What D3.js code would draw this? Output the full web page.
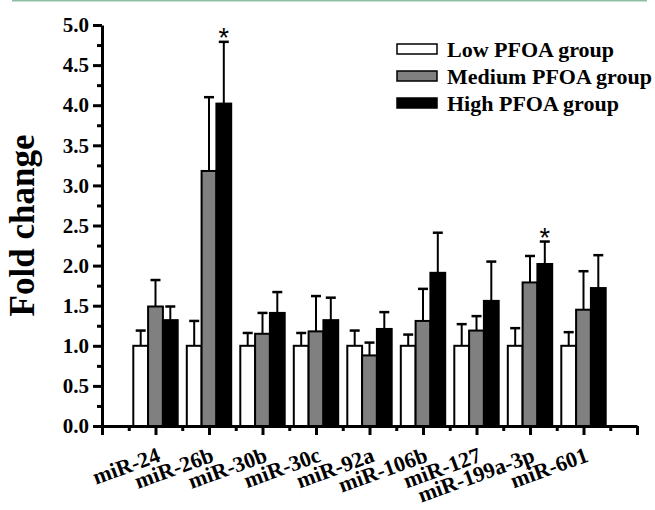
<!DOCTYPE html>
<html>
<head>
<meta charset="utf-8">
<script src="https://cdn.jsdelivr.net/npm/d3@7"></script>
<style>
  body { margin: 0; background: #fff; }
  svg text { font-family: "Liberation Serif", "Times New Roman", serif; font-weight: bold; }
</style>
</head>
<body>
<svg id="chart" width="655" height="510"></svg>
<script>
// data
const categories = ["miR-24", "miR-26b", "miR-30b", "miR-30c", "miR-92a", "miR-106b", "miR-127", "miR-199a-3p", "miR-601"];
const groups = ["Low PFOA group", "Medium PFOA group", "High PFOA group"];
const lowMean = [1.0, 1.0, 1.0, 1.0, 1.0, 1.0, 1.0, 1.0, 1.0];
const lowSD = [0.19, 0.31, 0.16, 0.16, 0.19, 0.14, 0.27, 0.22, 0.17];
const mediumMean = [1.49, 3.18, 1.15, 1.18, 0.88, 1.31, 1.19, 1.79, 1.45];
const mediumSD = [0.33, 0.92, 0.26, 0.44, 0.16, 0.40, 0.18, 0.33, 0.48];
const highMean = [1.32, 4.02, 1.41, 1.32, 1.21, 1.91, 1.56, 2.02, 1.72];
const highSD = [0.17, 0.77, 0.26, 0.28, 0.21, 0.50, 0.49, 0.28, 0.41];
const starred = ["miR-26b", "miR-199a-3p"]; // * on the high group
const yTicks = [0, 0.5, 1, 1.5, 2, 2.5, 3, 3.5, 4, 4.5, 5];
const yMinor = [0.25, 0.75, 1.25, 1.75, 2.25, 2.75, 3.25, 3.75, 4.25, 4.75];

const fills = ["#ffffff", "#808080", "#000000"];
const means = [lowMean, mediumMean, highMean];
const sds = [lowSD, mediumSD, highSD];

const svg = d3.select("#chart");

// thin green rule at the very top
svg.append("line")
    .attr("x1", 12).attr("x2", 647)
    .attr("y1", 0.5).attr("y2", 0.5)
    .attr("stroke", "#8fbfa2")
    .attr("stroke-width", 2);

const plotLeft = 102, plotRight = 637, plotTop = 25, plotBottom = 426;

// one empty slot before and after so the groups sit on inner ticks
const slots = ["_start"].concat(categories, ["_end"]);
const x = d3.scalePoint().domain(slots).range([plotLeft, plotRight]);
const step = x.step();
const inner = d3.scaleBand().domain(groups).range([-step * 0.415, step * 0.415]);
const y = d3.scaleLinear().domain([0, 5]).range([plotBottom, plotTop]);

// bars
const bars = svg.append("g");
groups.forEach((g, gi) => {
    const rows = categories.map((c, i) => ({ c: c, m: means[gi][i], sd: sds[gi][i] }));
    const grp = bars.append("g");
    grp.selectAll("rect").data(rows).join("rect")
        .attr("x", d => x(d.c) + inner(g))
        .attr("y", d => y(d.m))
        .attr("width", inner.bandwidth())
        .attr("height", d => y(0) - y(d.m))
        .attr("fill", fills[gi])
        .attr("stroke", "#000")
        .attr("stroke-width", 2);

    // upper error bars
    grp.selectAll("line.err").data(rows).join("line")
        .attr("class", "err")
        .attr("x1", d => x(d.c) + inner(g) + inner.bandwidth() / 2)
        .attr("x2", d => x(d.c) + inner(g) + inner.bandwidth() / 2)
        .attr("y1", d => y(d.m))
        .attr("y2", d => y(d.m + d.sd))
        .attr("stroke", "#000").attr("stroke-width", 2);
    grp.selectAll("line.cap").data(rows).join("line")
        .attr("class", "cap")
        .attr("x1", d => x(d.c) + inner(g) + inner.bandwidth() / 2 - 5)
        .attr("x2", d => x(d.c) + inner(g) + inner.bandwidth() / 2 + 5)
        .attr("y1", d => y(d.m + d.sd))
        .attr("y2", d => y(d.m + d.sd))
        .attr("stroke", "#000").attr("stroke-width", 2.5);

    if (gi === 2) {
        grp.selectAll("text.star").data(rows.filter(d => starred.includes(d.c))).join("text")
            .attr("class", "star")
            .attr("x", d => x(d.c) + inner(g) + inner.bandwidth() / 2)
            .attr("y", d => y(d.m + d.sd) + 5)
            .attr("text-anchor", "middle")
            .style("font-family", "'Liberation Sans', Arial, sans-serif")
            .style("font-weight", "normal")
            .style("font-size", "27px")
            .text("*");
    }
});

// y axis
const yAxis = svg.append("g")
    .attr("transform", `translate(${plotLeft},0)`)
    .call(d3.axisLeft(y).tickValues(yTicks).tickSize(9).tickSizeOuter(0).tickPadding(4).tickFormat(d3.format(".1f")));
svg.append("g")
    .attr("transform", `translate(${plotLeft},0)`)
    .call(d3.axisLeft(y).tickValues(yMinor).tickSize(5).tickSizeOuter(0).tickFormat(""))
    .select(".domain").remove();
yAxis.selectAll("text").style("font-size", "21px").attr("fill", "#000")
    .style("font-family", "'Liberation Serif', serif");

// x axis
svg.append("g")
    .attr("transform", `translate(0,${plotBottom})`)
    .call(d3.axisBottom(x).tickSize(9).tickSizeOuter(0).tickFormat(""));
const xMid = d3.scaleLinear().domain([0, slots.length - 1]).range([plotLeft, plotRight]);
svg.append("g")
    .attr("transform", `translate(0,${plotBottom})`)
    .call(d3.axisBottom(xMid).tickValues(d3.range(0.5, slots.length - 1, 1)).tickSize(5).tickSizeOuter(0).tickFormat(""))
    .select(".domain").remove();

svg.selectAll(".domain").attr("stroke", "#000").attr("stroke-width", 3);
svg.selectAll(".tick line").attr("stroke", "#000").attr("stroke-width", 3);

// rotated category labels
svg.append("g").selectAll("text").data(categories).join("text")
    .attr("transform", d => `translate(${x(d) + 6},${plotBottom + 35}) rotate(-20)`)
    .attr("text-anchor", "end")
    .style("font-size", "22px")
    .text(d => d);

// y title
svg.append("text")
    .attr("transform", "translate(34,225.5) rotate(-90)")
    .attr("text-anchor", "middle")
    .style("font-size", "35px")
    .text("Fold change");

// legend
const legend = svg.append("g").attr("transform", "translate(397,44)");
groups.forEach((g, gi) => {
    const row = legend.append("g").attr("transform", `translate(0,${gi * 27})`);
    row.append("rect")
        .attr("width", 40).attr("height", 10)
        .attr("fill", fills[gi])
        .attr("stroke", "#000").attr("stroke-width", 1.5);
    row.append("text")
        .attr("x", 50).attr("y", 13)
        .style("font-size", "22px")
        .text(g);
});
</script>
</body>
</html>
